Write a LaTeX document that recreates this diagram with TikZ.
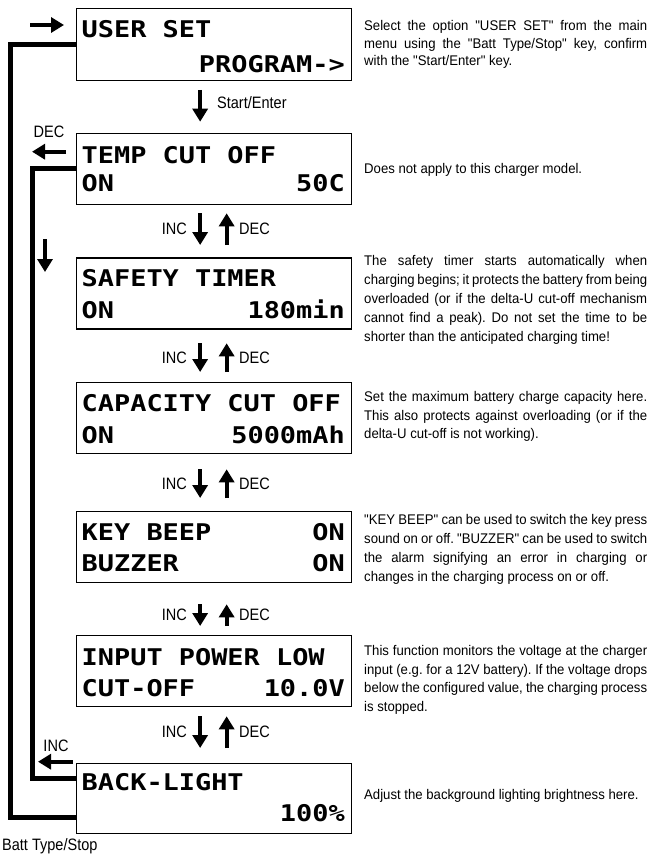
\documentclass[tikz,border=0pt]{standalone}
\usepackage{fontspec}
\setmainfont{Liberation Sans}[FakeStretch=0.94, Ligatures=TeXOff]
\newfontfamily\labfont{Liberation Sans}[FakeStretch=0.88, Ligatures=TeXOff]
\newfontfamily\lcdfont{DejaVu Sans Mono Bold}[FakeStretch=1.17]
\usetikzlibrary{arrows.meta}
\newcommand\jl[1]{\makebox[283pt][s]{#1}}
\begin{document}
\frenchspacing
\begin{tikzpicture}[x=1pt,y=-1pt,
  lcdbox/.style={draw=black, line width=1.3pt, minimum width=275pt, minimum height=71pt, anchor=north west, inner sep=0pt},
  lcdtxt/.style={font=\lcdfont\fontsize{23}{23}\selectfont, inner sep=0pt},
  rail/.style={line width=5pt, line join=miter},
  garrow/.style={line width=4pt, -{Triangle[length=13pt,width=15pt]}},
  lab/.style={font=\labfont\fontsize{16.5}{18}\selectfont, inner sep=0pt},
  desc/.style={inner sep=0pt, anchor=north west, align=left}]
\useasboundingbox (0,0) rectangle (651,854);

% LCD boxes
\node[lcdbox, minimum height=72pt] (b1) at (76,7.5) {};
\node[lcdbox] (b2) at (76,132.7) {};
\node[lcdbox] (b3) at (76,257.3) {};
\node[lcdbox] (b4) at (76,382) {};
\node[lcdbox] (b5) at (76,510.7) {};
\node[lcdbox] (b6) at (76,635) {};
\node[lcdbox, minimum height=70pt] (b7) at (76,762.7) {};

% LCD texts
\node[lcdtxt, anchor=base west] (t1a) at (81.5,37.3) {USER SET};
\node[lcdtxt, anchor=base east] (t1b) at (345,72) {PROGRAM->};
\node[lcdtxt, anchor=base west] (t2a) at (81.5,163.3) {TEMP CUT OFF};
\node[lcdtxt, anchor=base west] (t2b) at (81.5,191.7) {ON};
\node[lcdtxt, anchor=base east] (t2c) at (345,191.7) {50C};
\node[lcdtxt, anchor=base west] (t3a) at (81.5,286.7) {SAFETY TIMER};
\node[lcdtxt, anchor=base west] (t3b) at (81.5,318.3) {ON};
\node[lcdtxt, anchor=base east] (t3c) at (345,318.3) {180min};
\node[lcdtxt, anchor=base west] (t4a) at (81.5,411.7) {CAPACITY CUT OFF};
\node[lcdtxt, anchor=base west] (t4b) at (81.5,443.3) {ON};
\node[lcdtxt, anchor=base east] (t4c) at (345,443.3) {5000mAh};
\node[lcdtxt, anchor=base west] (t5a) at (81.5,540) {KEY BEEP};
\node[lcdtxt, anchor=base east] (t5b) at (345,540) {ON};
\node[lcdtxt, anchor=base west] (t5c) at (81.5,571) {BUZZER};
\node[lcdtxt, anchor=base east] (t5d) at (345,571) {ON};
\node[lcdtxt, anchor=base west] (t6a) at (81.5,665) {INPUT POWER LOW};
\node[lcdtxt, anchor=base west] (t6b) at (81.5,696.7) {CUT-OFF};
\node[lcdtxt, anchor=base east] (t6c) at (345,696.7) {10.0V};
\node[lcdtxt, anchor=base west] (t7a) at (81.5,790) {BACK-LIGHT};
\node[lcdtxt, anchor=base east] (t7b) at (345,821.7) {100\%};

% left rails
\coordinate (ol) at (10,817);
\coordinate (il) at (32,778);
\draw[rail] (b1.west) -| (ol) -- (ol -| b7.west);
\draw[rail] (b2.west) -| (il) -- (il -| b7.west);

% middle arrows
\draw[garrow, shorten <=9pt, shorten >=11pt] ([xshift=-14pt]b1.south) -- ([xshift=-14pt]b2.north);
\node[lab, anchor=base west] (se) at (217,108) {Start/Enter};

\draw[garrow, shorten <=8.3pt, shorten >=12.3pt] ([xshift=-14pt]b2.south) -- ([xshift=-14pt]b3.north);
\draw[garrow, shorten <=12.3pt, shorten >=8.3pt] ([xshift=12.5pt]b3.north) -- ([xshift=12.5pt]b2.south);
\node[lab, anchor=base east] (inc2) at (187,234.5) {INC};
\node[lab, anchor=base west] (dec2) at (239,234.5) {DEC};

\draw[garrow, shorten <=13.7pt, shorten >=10pt] ([xshift=-14pt]b3.south) -- ([xshift=-14pt]b4.north);
\draw[garrow, shorten <=10pt, shorten >=13.7pt] ([xshift=12.5pt]b4.north) -- ([xshift=12.5pt]b3.south);
\node[lab, anchor=base east] (inc3) at (187,363) {INC};
\node[lab, anchor=base west] (dec3) at (239,363) {DEC};

\draw[garrow, shorten <=15pt, shorten >=12.7pt] ([xshift=-14pt]b4.south) -- ([xshift=-14pt]b5.north);
\draw[garrow, shorten <=12.7pt, shorten >=15pt] ([xshift=12.5pt]b5.north) -- ([xshift=12.5pt]b4.south);
\node[lab, anchor=base east] (inc4) at (187,489) {INC};
\node[lab, anchor=base west] (dec4) at (239,489) {DEC};

\draw[garrow, shorten <=21.3pt, shorten >=9pt] ([xshift=-14pt]b5.south) -- ([xshift=-14pt]b6.north);
\draw[garrow, shorten <=9pt, shorten >=21.3pt] ([xshift=12.5pt]b6.north) -- ([xshift=12.5pt]b5.south);
\node[lab, anchor=base east] (inc5) at (187,620.5) {INC};
\node[lab, anchor=base west] (dec5) at (239,620.5) {DEC};

\draw[garrow, shorten <=9pt, shorten >=14.7pt] ([xshift=-14pt]b6.south) -- ([xshift=-14pt]b7.north);
\draw[garrow, shorten <=14.7pt, shorten >=9pt] ([xshift=12.5pt]b7.north) -- ([xshift=12.5pt]b6.south);
\node[lab, anchor=base east] (inc6) at (187,737.5) {INC};
\node[lab, anchor=base west] (dec6) at (239,737.5) {DEC};

% left arrows and labels
\coordinate (ea) at (30,25);
\draw[garrow, shorten >=12pt] (ea) -- (ea -| b1.west);
\node[lab, anchor=base] (decl) at (49,137.5) {DEC};
\coordinate (da) at (66,151.7);
\coordinate (db) at (32,151.7);
\draw[garrow] (da) -- (db);
\coordinate (dn1) at (45,239);
\coordinate (dn2) at (45,272);
\draw[garrow] (dn1) -- (dn2);
\node[lab, anchor=base] (incl) at (56,751) {INC};
\coordinate (ia) at (73,761.7);
\coordinate (ib) at (38,761.7);
\draw[garrow] (ia) -- (ib);
\node[lab, anchor=base west] (batt) at (2,850.5) {Batt Type/Stop};

% descriptions
\node[desc, font=\fontsize{14}{17.5}\selectfont] (d1) at (364,20.5) {\jl{Select the option "USER SET" from the main}\\\jl{menu using the "Batt Type/Stop" key, confirm}\\with the "Start/Enter" key.};
\node[desc, font=\fontsize{14}{18.7}\selectfont] (d2) at (364,162.8) {Does not apply to this charger model.};
\node[desc, font=\fontsize{14}{19.2}\selectfont] (d3) at (364,254.8) {\jl{The safety timer starts automatically when}\\\jl{charging begins; it protects the battery from being}\\\jl{overloaded (or if the delta-U cut-off mechanism}\\\jl{cannot find a peak). Do not set the time to be}\\shorter than the anticipated charging time!};
\node[desc, font=\fontsize{14}{18.3}\selectfont] (d4) at (364,391.5) {\jl{Set the maximum battery charge capacity here.}\\\jl{This also protects against overloading (or if the}\\delta-U cut-off is not working).};
\node[desc, font=\fontsize{14}{19}\selectfont] (d5) at (364,513.8) {\jl{"KEY BEEP" can be used to switch the key press}\\\jl{sound on or off. "BUZZER" can be used to switch}\\\jl{the alarm signifying an error in charging or}\\changes in the charging process on or off.};
\node[desc, font=\fontsize{14}{18.9}\selectfont] (d6) at (364,644.8) {\jl{This function monitors the voltage at the charger}\\\jl{input (e.g. for a 12V battery). If the voltage drops}\\\jl{below the configured value, the charging process}\\is stopped.};
\node[desc, font=\fontsize{14}{18.7}\selectfont] (d7) at (364,788.8) {Adjust the background lighting brightness here.};
\end{tikzpicture}
\end{document}
